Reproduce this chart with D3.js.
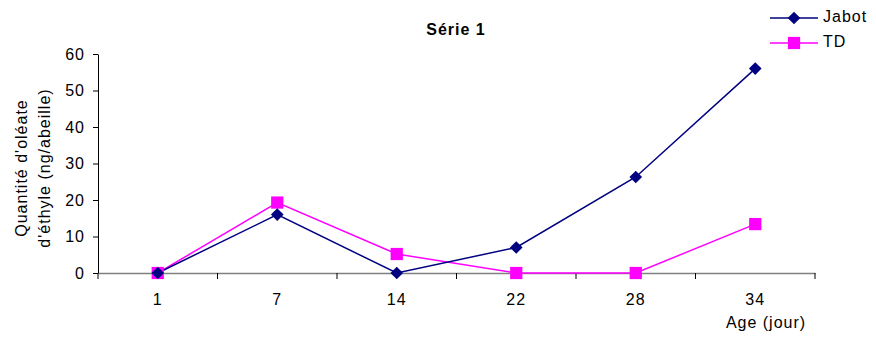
<!DOCTYPE html>
<html>
<head>
<meta charset="utf-8">
<script src="https://cdn.jsdelivr.net/npm/d3@7"></script>
<style>
  body { margin: 0; background: #fff; }
  svg text { font-family: "Liberation Sans", Arial, sans-serif; fill: #000; letter-spacing: 1px; }
</style>
</head>
<body>
<div id="chart"></div>
<script>
var ages = ['1', '7', '14', '22', '28', '34'];
var jabot = [0, 16, 0, 7, 26.3, 56];
var td = [0, 19.3, 5.2, 0, 0, 13.4];
var yTicks = [0, 10, 20, 30, 40, 50, 60];

var W = 876, H = 342;
var margin = { top: 54, right: 61, bottom: 69, left: 98 };
var width = W - margin.left - margin.right;
var height = H - margin.top - margin.bottom;

var svg = d3.select('#chart').append('svg')
    .attr('width', W)
    .attr('height', H);

var g = svg.append('g')
    .attr('transform', 'translate(' + margin.left + ',' + margin.top + ')');

var x = d3.scaleBand().domain(ages).range([0, width]);
var y = d3.scaleLinear().domain([0, 60]).range([height, 0]);

// Axe X
var xAxis = g.append('g')
    .attr('transform', 'translate(0,' + height + ')')
    .call(d3.axisBottom(x).tickSize(0).tickPadding(21));
xAxis.select('.domain').attr('stroke', '#808080').attr('stroke-width', 1.5);
xAxis.selectAll('text').style('font-size', '16px');

// graduations entre les catégories
g.selectAll('.xtick')
    .data(d3.range(ages.length + 1))
    .enter().append('line')
    .attr('x1', function (i) { return i * x.step(); })
    .attr('x2', function (i) { return i * x.step(); })
    .attr('y1', height)
    .attr('y2', height + 6)
    .attr('stroke', '#000');

// Axe Y
var yAxis = g.append('g')
    .call(d3.axisLeft(y).tickValues(yTicks).tickSize(5).tickSizeOuter(0).tickPadding(8));
yAxis.select('.domain').attr('stroke', '#000');
yAxis.selectAll('text').style('font-size', '16px');

// Titre
svg.append('text')
    .attr('x', 456).attr('y', 35)
    .attr('text-anchor', 'middle')
    .style('font-size', '16px')
    .style('font-weight', 'bold')
    .text('Série 1');

// Label axe Y
var yl = svg.append('text')
    .attr('transform', 'translate(27,168)rotate(-90)')
    .attr('text-anchor', 'middle')
    .style('font-size', '16px');
yl.append('tspan').attr('x', 0).attr('dy', 0).text("Quantité d'oléate");
yl.append('tspan').attr('x', 0).attr('dy', 23).text("d'éthyle (ng/abeille)");

// Label axe X
svg.append('text')
    .attr('x', 766).attr('y', 328)
    .attr('text-anchor', 'middle')
    .style('font-size', '16px')
    .text('Age (jour)');

var series = [
    { name: 'Jabot', values: jabot, color: '#000080', shape: d3.symbolSquare, size: 80, rot: 45 },
    { name: 'TD', values: td, color: '#FF00FF', shape: d3.symbolSquare, size: 150, rot: 0 }
];

var line = d3.line()
    .x(function (d, i) { return x(ages[i]) + x.bandwidth() / 2; })
    .y(function (d) { return y(d); });

// TD d'abord, Jabot par-dessus
series.slice().reverse().forEach(function (s) {
    g.append('path')
        .datum(s.values)
        .attr('d', line)
        .attr('fill', 'none')
        .attr('stroke', s.color)
        .attr('stroke-width', 1.5);
});
series.slice().reverse().forEach(function (s) {
    g.selectAll(null)
        .data(s.values)
        .enter().append('path')
        .attr('d', d3.symbol().type(s.shape).size(s.size))
        .attr('transform', function (d, i) {
            return 'translate(' + (x(ages[i]) + x.bandwidth() / 2) + ',' + y(d) + ')rotate(' + s.rot + ')';
        })
        .attr('fill', s.color);
});

// Légende
var legend = svg.append('g');
series.forEach(function (s, i) {
    var ly = 18 + i * 25;
    legend.append('line')
        .attr('x1', 770).attr('x2', 818)
        .attr('y1', ly).attr('y2', ly)
        .attr('stroke', s.color).attr('stroke-width', 1.5);
    legend.append('path')
        .attr('d', d3.symbol().type(s.shape).size(s.size))
        .attr('transform', 'translate(794,' + ly + ')rotate(' + s.rot + ')')
        .attr('fill', s.color);
    legend.append('text')
        .attr('x', 823).attr('y', ly + 4)
        .style('font-size', '16px')
        .text(s.name);
});
</script>
</body>
</html>
